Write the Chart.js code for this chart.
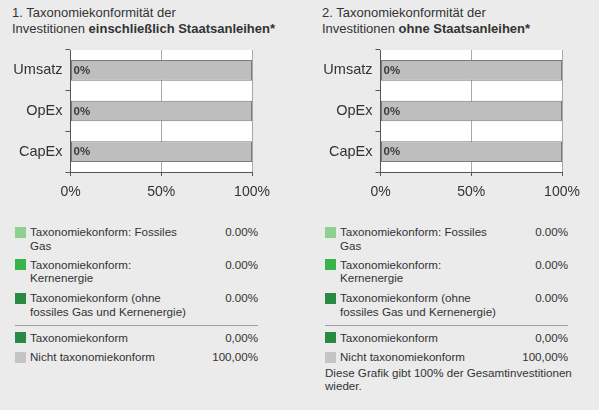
<!DOCTYPE html>
<html><head><meta charset="utf-8">
<script src="https://cdn.jsdelivr.net/npm/chart.js@4/dist/chart.umd.min.js"></script>
<style>
html,body{margin:0;padding:0;background:#ebebeb;width:599px;height:410px;overflow:hidden;font-family:"Liberation Sans",Arial,sans-serif;color:#333}
.panel{position:absolute;top:0;width:300px;height:410px}
.title{position:absolute;left:12px;top:5px;font-size:13px;line-height:16px;white-space:nowrap;color:#333}
canvas{position:absolute;left:0;top:0}
.sw{position:absolute;left:15px;width:11px;height:11px}
.lab{position:absolute;left:30px;font-size:11.6px;line-height:13.5px;white-space:nowrap;color:#333}
.val{position:absolute;left:0;width:258px;text-align:right;font-size:11.6px;line-height:13.5px;color:#333}
.sep{position:absolute;left:15px;width:243px;height:0;border-top:1px solid #a0a0a0}
.foot{position:absolute;left:15px;font-size:11.6px;line-height:12.8px;white-space:nowrap;color:#333}
</style>
</head><body>
<div class="panel" id="p1" style="left:0"></div>
<div class="panel" id="p2" style="left:310px"></div>
<script>
const categories = ["Umsatz", "OpEx", "CapEx"];
const alignedIncl = [0, 0, 0];
const notAlignedIncl = [100, 100, 100];
const alignedExcl = [0, 0, 0];
const notAlignedExcl = [100, 100, 100];
const xTickValues = [0, 50, 100];

const titleLine1 = ["1. Taxonomiekonformität der", "2. Taxonomiekonformität der"];
const titleLine2Plain = ["Investitionen ", "Investitionen "];
const titleLine2Bold = ["einschließlich Staatsanleihen*", "ohne Staatsanleihen*"];

const legendLabels = [
  ["Taxonomiekonform: Fossiles", "Gas"],
  ["Taxonomiekonform:", "Kernenergie"],
  ["Taxonomiekonform (ohne", "fossiles Gas und Kernenergie)"]
];
const legendColors = ["#8fcf8f", "#38b54a", "#2a8a43"];
const legendValuesIncl = ["0.00%", "0.00%", "0.00%"];
const legendValuesExcl = ["0.00%", "0.00%", "0.00%"];
const summaryLabels = ["Taxonomiekonform", "Nicht taxonomiekonform"];
const summaryColors = ["#2a8a43", "#c4c4c4"];
const summaryValuesIncl = ["0,00%", "100,00%"];
const summaryValuesExcl = ["0,00%", "100,00%"];
const footnote = ["Diese Grafik gibt 100% der Gesamtinvestitionen", "wieder."];

const FONT = '"Liberation Sans", Arial, sans-serif';

const plotBg = {
  id: 'plotBg',
  beforeDraw(chart) {
    const {ctx, chartArea: a} = chart;
    ctx.save();
    ctx.fillStyle = '#ffffff';
    ctx.fillRect(a.left, a.top, a.right - a.left, a.bottom - a.top);
    ctx.restore();
  }
};
const barLabels = {
  id: 'barLabels',
  afterDatasetsDraw(chart) {
    const {ctx, chartArea: a} = chart;
    const meta = chart.getDatasetMeta(1);
    const vals = chart.data.datasets[0].data;
    ctx.save();
    ctx.font = 'bold 11.5px ' + FONT;
    ctx.fillStyle = '#3c3c3c';
    ctx.textBaseline = 'middle';
    ctx.textAlign = 'left';
    meta.data.forEach((el, i) => {
      ctx.fillText(vals[i] + '%', a.left + 3, el.y + 0.5);
    });
    ctx.restore();
  }
};

function buildPanel(id, idx, aligned, notAligned, legVals, sumVals, withFoot) {
  const p = document.getElementById(id);
  const t = document.createElement('div');
  t.className = 'title';
  t.appendChild(document.createTextNode(titleLine1[idx]));
  t.appendChild(document.createElement('br'));
  t.appendChild(document.createTextNode(titleLine2Plain[idx]));
  const b = document.createElement('b');
  b.textContent = titleLine2Bold[idx];
  t.appendChild(b);
  p.appendChild(t);

  const c = document.createElement('canvas');
  c.width = 300; c.height = 200;
  c.style.width = '300px'; c.style.height = '200px';
  p.appendChild(c);

  new Chart(c, {
    type: 'bar',
    data: {
      labels: categories,
      datasets: [
        {label: summaryLabels[0], data: aligned, backgroundColor: '#2a8a43', borderWidth: 0,
         barPercentage: 0.51, categoryPercentage: 1},
        {label: summaryLabels[1], data: notAligned, backgroundColor: '#bebebe', borderColor: '#7a7a7a',
         borderWidth: 1, borderSkipped: false, barPercentage: 0.51, categoryPercentage: 1}
      ]
    },
    options: {
      indexAxis: 'y',
      responsive: false,
      animation: false,
      devicePixelRatio: 1,
      layout: {padding: {top: 50, left: 0, right: 48, bottom: 0}},
      plugins: {legend: {display: false}, tooltip: {enabled: false}, title: {display: false}},
      scales: {
        x: {
          stacked: true, min: 0, max: 100,
          afterBuildTicks(s) { s.ticks = xTickValues.map(v => ({value: v})); },
          afterFit(s) { s.height = 28; },
          border: {display: true, color: '#555555', width: 1},
          grid: {
            drawOnChartArea: true, drawTicks: true, tickLength: 4,
            color: ctx => (ctx.tick && ctx.tick.value === 0) ? 'rgba(0,0,0,0)' : '#a8a8a8',
            tickColor: '#555555', lineWidth: 1
          },
          ticks: {
            padding: 8, color: '#333333', maxRotation: 0,
            font: {family: FONT, size: 14},
            callback: v => v + '%'
          }
        },
        y: {
          stacked: true,
          afterFit(s) { s.width = 70.5; },
          border: {display: true, color: '#555555', width: 1},
          grid: {drawOnChartArea: false, drawTicks: true, tickLength: 5, tickColor: '#555555', offset: true},
          ticks: {padding: 3, color: '#333333', font: {family: FONT, size: 14.5}}
        }
      }
    },
    plugins: [plotBg, barLabels]
  });

  const tops = [225, 257.5, 291];
  legendLabels.forEach((lines, i) => {
    const sw = document.createElement('div');
    sw.className = 'sw'; sw.style.top = (tops[i] + 1.5) + 'px'; sw.style.background = legendColors[i];
    p.appendChild(sw);
    const l = document.createElement('div');
    l.className = 'lab'; l.style.top = tops[i] + 'px';
    l.innerHTML = lines.join('<br>');
    p.appendChild(l);
    const v = document.createElement('div');
    v.className = 'val'; v.style.top = tops[i] + 'px'; v.textContent = legVals[i];
    p.appendChild(v);
  });
  const sep = document.createElement('div');
  sep.className = 'sep'; sep.style.top = '325px';
  p.appendChild(sep);
  const sTops = [330.5, 350];
  summaryLabels.forEach((s, i) => {
    const sw = document.createElement('div');
    sw.className = 'sw'; sw.style.top = (sTops[i] + 1.5) + 'px'; sw.style.background = summaryColors[i];
    p.appendChild(sw);
    const l = document.createElement('div');
    l.className = 'lab'; l.style.top = sTops[i] + 'px'; l.textContent = s;
    p.appendChild(l);
    const v = document.createElement('div');
    v.className = 'val'; v.style.top = sTops[i] + 'px'; v.textContent = sumVals[i];
    p.appendChild(v);
  });
  if (withFoot) {
    const f = document.createElement('div');
    f.className = 'foot'; f.style.top = '367px';
    f.innerHTML = footnote.join('<br>');
    p.appendChild(f);
  }
}

buildPanel('p1', 0, alignedIncl, notAlignedIncl, legendValuesIncl, summaryValuesIncl, false);
buildPanel('p2', 1, alignedExcl, notAlignedExcl, legendValuesExcl, summaryValuesExcl, true);
</script>
</body></html>
